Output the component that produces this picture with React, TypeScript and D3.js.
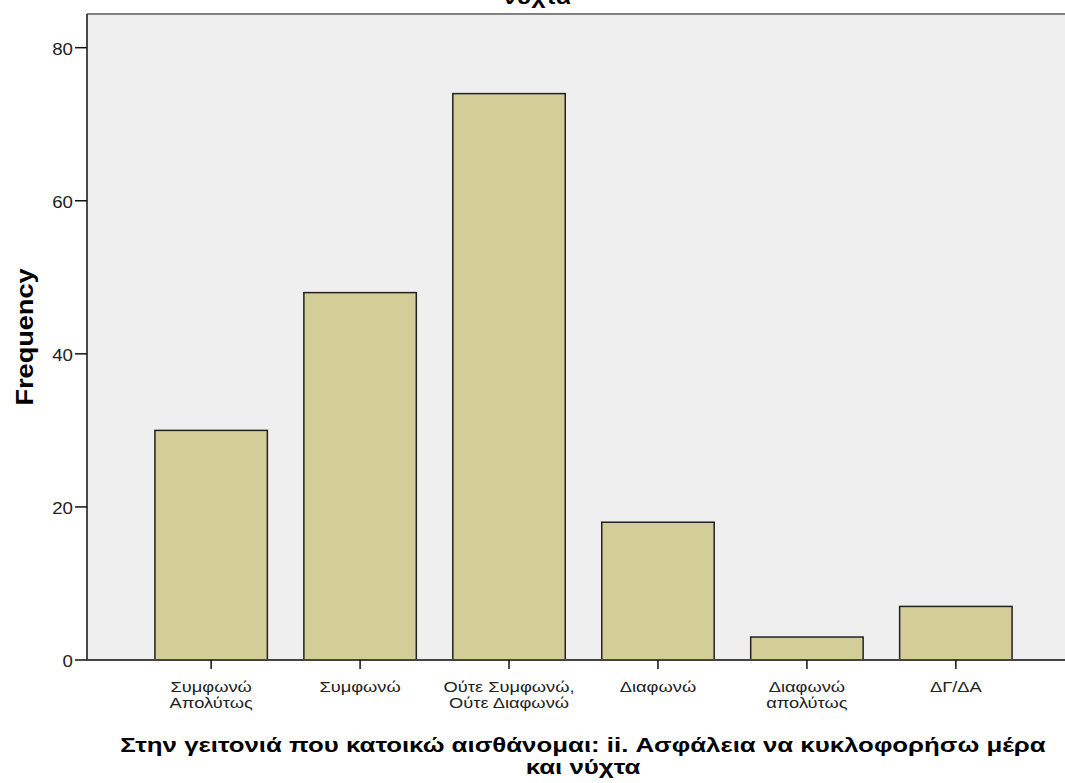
import React from 'react';
import * as d3 from 'd3';

const categories = [
  ['Συμφωνώ', 'Απολύτως'],
  ['Συμφωνώ'],
  ['Ούτε Συμφωνώ,', 'Ούτε Διαφωνώ'],
  ['Διαφωνώ'],
  ['Διαφωνώ', 'απολύτως'],
  ['ΔΓ/ΔΑ'],
];
const frequencies = [30, 48, 74, 18, 3, 7];
const yTicks = [0, 20, 40, 60, 80];
const titleTail = 'νύχτα';
const xTitle = ['Στην γειτονιά που κατοικώ αισθάνομαι: ii. Ασφάλεια να κυκλοφορήσω μέρα', 'και νύχτα'];
const yTitle = 'Frequency';

const font = '"Liberation Sans", Arial, sans-serif';

// text slightly stretched sideways, like the SPSS export
const Label = ({ x, y, anchor = 'middle', size, bold = false, sx = 1.1, rotate = 0, children }: any) => (
  <g transform={`translate(${x},${y}) rotate(${rotate}) scale(${sx},1)`}>
    <text textAnchor={anchor} fontFamily={font} fontSize={size} fontWeight={bold ? 'bold' : 'normal'}
      fill={bold ? '#000' : '#222'}>{children}</text>
  </g>
);

const App = () => {
  const width = 1065;
  const height = 783;
  const left = 87;
  const right = 1080;
  const top = 14;
  const bottom = 660;

  const keys = categories.map((c, i) => String(i));
  const x = d3.scaleBand<string>().domain(keys).range([left, right]).paddingInner(0.245).paddingOuter(0.456);
  const y = d3.scaleLinear().domain([0, 84.4]).range([bottom, top]);

  return (
    <svg width={width} height={height} style={{ position: 'absolute', left: 0, top: 0, display: 'block' }}>
      <rect x={0} y={0} width={width} height={height} fill="#fff" />
      <rect x={left} y={top} width={right - left} height={bottom - top} fill="#efefef" />
      <line x1={left} x2={right} y1={top} y2={top} stroke="#808080" strokeWidth={2} />
      <Label x={537} y={4} size={21} bold sx={1.18}>{titleTail}</Label>

      {frequencies.map((v, i) => (
        <rect key={i} x={x(keys[i])} y={y(v)} width={x.bandwidth()} height={bottom - y(v)}
          fill="#d3ce97" stroke="#222" strokeWidth={1.5} />
      ))}

      <line x1={left} x2={left} y1={top} y2={bottom} stroke="#111" strokeWidth={1.5} />
      <line x1={left} x2={right} y1={bottom} y2={bottom} stroke="#444" strokeWidth={2} />

      {yTicks.map(t => (
        <g key={t}>
          <line x1={left - 12} x2={left} y1={y(t)} y2={y(t)} stroke="#111" strokeWidth={1.5} />
          <Label x={left - 14} y={y(t) + 7} anchor="end" size={17}>{t}</Label>
        </g>
      ))}

      {categories.map((lines, i) => {
        const cx = (x(keys[i]) as number) + x.bandwidth() / 2;
        return (
          <g key={i}>
            <line x1={cx} x2={cx} y1={bottom} y2={bottom + 9} stroke="#111" strokeWidth={1.5} />
            {lines.map((l, j) => (
              <Label key={j} x={cx} y={bottom + 32 + j * 16} size={15} sx={1.22}>{l}</Label>
            ))}
          </g>
        );
      })}

      <Label x={33} y={(top + bottom) / 2} rotate={-90} size={23} bold sx={1.18}>{yTitle}</Label>

      {xTitle.map((l, j) => (
        <Label key={j} x={583} y={752 + j * 22} size={21} bold sx={1.23}>{l}</Label>
      ))}
    </svg>
  );
};

export default App;
